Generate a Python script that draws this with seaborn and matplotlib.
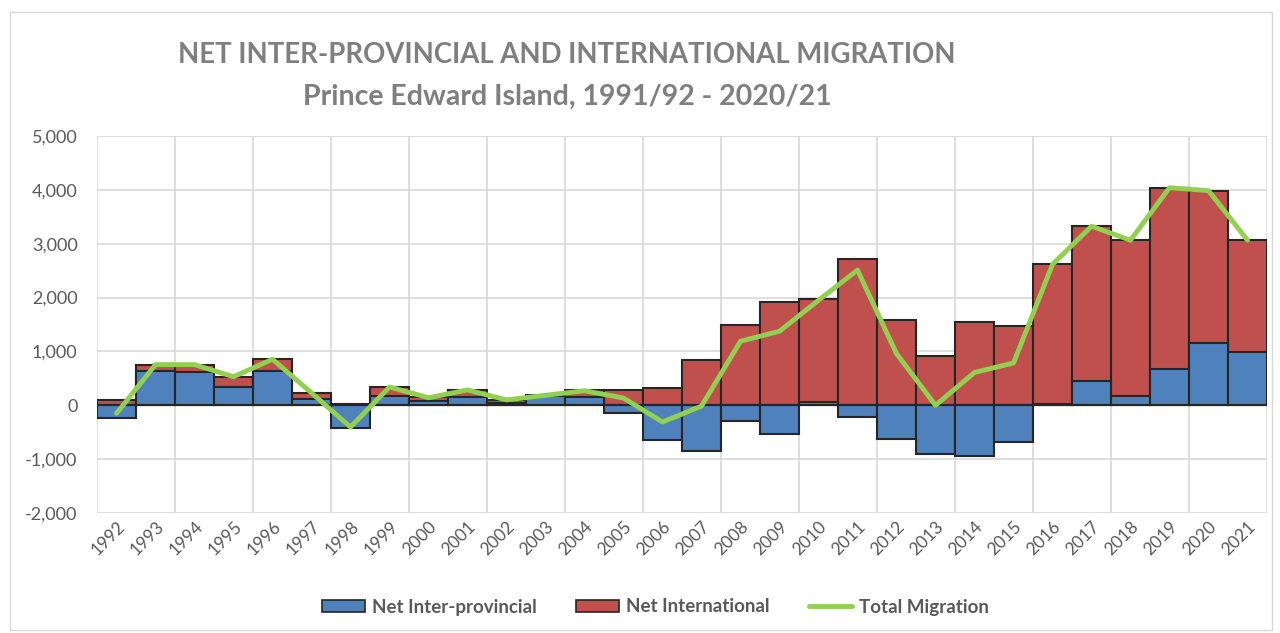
import numpy as np
import pandas as pd
import matplotlib
matplotlib.use("Agg")
import matplotlib.pyplot as plt
import seaborn as sns
from matplotlib.patches import Patch
from matplotlib.lines import Line2D
from matplotlib.ticker import FuncFormatter, MultipleLocator, FixedLocator

years = [str(y) for y in range(1992, 2022)]
inter_provincial = [-240, 640, 620, 340, 640, 125, -420, 180, 80, 155,
                    50, 165, 150, -145, -640, -850, -295, -540, 60, -215,
                    -620, -910, -940, -690, 25, 445, 165, 665, 1160, 990]
international = [90, 115, 135, 190, 215, 105, 15, 160, 75, 125,
                 45, 20, 130, 280, 330, 835, 1485, 1915, 1905, 2725,
                 1580, 910, 1550, 1475, 2590, 2880, 2900, 3375, 2825, 2075]
total_migration = [-150, 755, 755, 530, 855, 230, -405, 340, 140, 285,
                   100, 185, 270, 135, -310, -15, 1190, 1375, 1950, 2510,
                   960, 0, 610, 785, 2615, 3325, 3065, 4040, 3985, 3065]

blue = "#4F81BD"
red = "#C0504D"
green = "#92D050"
gray_text = "#595959"

sns.set_theme(style="white")
plt.rcParams['font.family'] = ['Lato', 'DejaVu Sans']

df = pd.DataFrame({
    "year": years,
    "inter": inter_provincial,
    "intl": international,
    "total": total_migration,
})
# positive stack top for the international bars (stacked above positive inter-provincial)
df["intl_top"] = np.maximum(df["inter"], 0) + df["intl"]

fig = plt.figure(figsize=(12.8, 6.33), dpi=100)
ax = fig.add_axes([97/1280, 1 - 513/633, (1267 - 97)/1280, (513 - 136)/633])

sns.barplot(data=df, x="year", y="intl_top", color=red, width=1.0,
            edgecolor="#262626", linewidth=1.5, saturation=1, ax=ax, zorder=2)
sns.barplot(data=df, x="year", y="inter", color=blue, width=1.0,
            edgecolor="#262626", linewidth=1.5, saturation=1, ax=ax, zorder=3)
sns.lineplot(x=np.arange(len(years)), y=df["total"], color=green,
             linewidth=3.5, ax=ax, zorder=4)

ax.axhline(0, color="#262626", linewidth=1.5, zorder=3.5)

ax.set_xlim(-0.5, len(years) - 0.5)
ax.set_ylim(-2000, 5000)
ax.yaxis.set_major_locator(MultipleLocator(1000))
ax.yaxis.set_major_formatter(FuncFormatter(lambda v, p: f"{int(v):,}"))
ax.xaxis.set_minor_locator(FixedLocator(np.arange(-0.5, len(years), 2)))
ax.grid(axis="y", which="major", color="#D9D9D9", linewidth=1.2, zorder=0)
ax.grid(axis="x", which="minor", color="#D9D9D9", linewidth=1.2, zorder=0)
ax.grid(axis="x", which="major", visible=False)
ax.set_axisbelow(True)
for s in ax.spines.values():
    s.set_visible(False)
ax.set_xlabel("")
ax.set_ylabel("")
ax.tick_params(axis="both", which="both", length=0, colors=gray_text)
ax.tick_params(axis="y", labelsize=13, pad=14)
ax.tick_params(axis="x", labelsize=12.5, pad=4)
for lab in ax.get_xticklabels():
    lab.set_rotation(45)
    lab.set_ha("right")
    lab.set_rotation_mode("anchor")

fig.text(0.443, 1 - 55/633, "NET INTER-PROVINCIAL AND INTERNATIONAL MIGRATION",
         ha="center", va="center", fontsize=19.8, fontweight="bold", color="#7F7F7F")
fig.text(0.443, 1 - 97/633, "Prince Edward Island, 1991/92 - 2020/21",
         ha="center", va="center", fontsize=20.5, fontweight="bold", color="#7F7F7F")

handles = [Patch(facecolor=blue, edgecolor="#262626", linewidth=1.2),
           Patch(facecolor=red, edgecolor="#262626", linewidth=1.2),
           Line2D([0], [0], color=green, linewidth=3.5)]
labels = ["Net Inter-provincial", "Net International", "Total Migration"]
leg = fig.legend(handles, labels, loc="center", bbox_to_anchor=(0.512, 1 - 607/633),
                 ncol=3, frameon=False, fontsize=13.5, handlelength=2.3,
                 handleheight=0.6, columnspacing=2.1, handletextpad=0.37)
for t in leg.get_texts():
    t.set_color(gray_text)
    t.set_fontweight("bold")

# outer chart border
fig.patches.append(plt.Rectangle((10/1280, 1 - 630/633), 1262/1280, 618/633,
                                 transform=fig.transFigure, fill=False,
                                 edgecolor="#D9D9D9", linewidth=1.0))

fig.savefig("out.png", dpi=100)
